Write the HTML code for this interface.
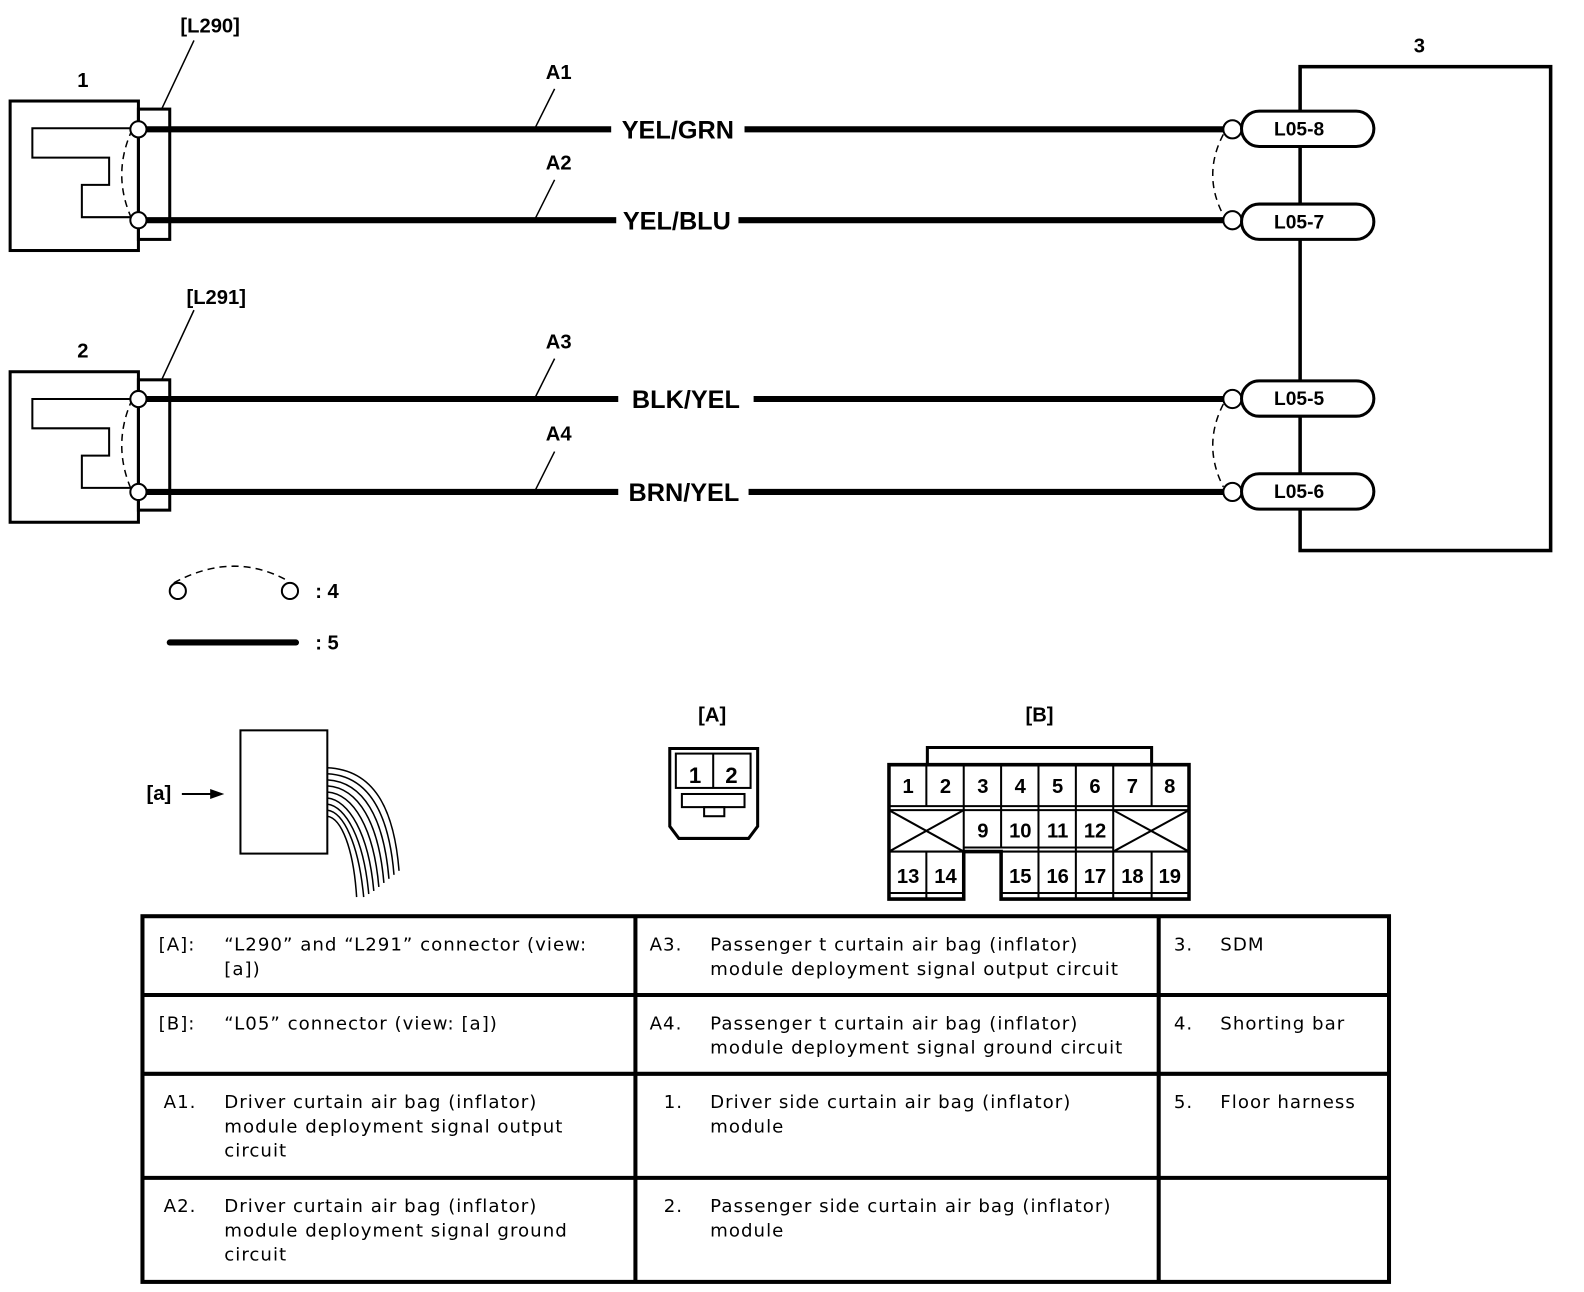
<!DOCTYPE html>
<html><head><meta charset="utf-8"><style>
html,body{margin:0;padding:0;background:#fff;}
svg{display:block;}
.b{font-family:"Liberation Sans",Arial,sans-serif;font-weight:bold;fill:#000;}
.t{font-family:"DejaVu Sans",Verdana,sans-serif;font-size:18px;letter-spacing:1px;fill:#000;}
</style></head><body>
<svg width="1584" height="1292" viewBox="0 0 1568 1279" xmlns="http://www.w3.org/2000/svg">
<g fill="none" stroke="#000">
<rect x="10" y="100" width="127" height="148" stroke-width="3"/>
<rect x="137" y="108" width="31" height="129" stroke-width="3"/>
<path d="M137,127 H32 V156 H108 V183 H81 V215 H137" stroke-width="2"/>
<path d="M131,128 Q110,173 131,218" stroke-width="1.5" stroke-dasharray="7,5"/>
<line x1="160" y1="108" x2="192" y2="40" stroke-width="1.5"/>
<rect x="10" y="368" width="127" height="149" stroke-width="3"/>
<rect x="137" y="376" width="31" height="129" stroke-width="3"/>
<path d="M137,395 H32 V424 H108 V451 H81 V483 H137" stroke-width="2"/>
<path d="M131,395 Q110,441 131,487" stroke-width="1.5" stroke-dasharray="7,5"/>
<line x1="160" y1="376" x2="192" y2="307" stroke-width="1.5"/>
<g stroke-width="6">
<line x1="145" y1="128" x2="605" y2="128"/><line x1="737" y1="128" x2="1212" y2="128"/>
<line x1="145" y1="218" x2="610" y2="218"/><line x1="731" y1="218" x2="1212" y2="218"/>
<line x1="145" y1="395" x2="612" y2="395"/><line x1="746" y1="395" x2="1212" y2="395"/>
<line x1="145" y1="487" x2="612" y2="487"/><line x1="741" y1="487" x2="1212" y2="487"/>
</g>
<g stroke-width="1.5">
<line x1="530" y1="126" x2="549" y2="88"/>
<line x1="530" y1="216" x2="549" y2="178"/>
<line x1="530" y1="393" x2="549" y2="355"/>
<line x1="530" y1="485" x2="549" y2="447"/>
</g>
<rect x="1287" y="66" width="248" height="479" stroke-width="3.5"/>
<path d="M1211,133 Q1190,173 1211,213" stroke-width="1.5" stroke-dasharray="7,5"/>
<path d="M1211,400 Q1190,441 1211,482" stroke-width="1.5" stroke-dasharray="7,5"/>
</g>
<g fill="#fff" stroke="#000" stroke-width="3">
<circle cx="137" cy="128" r="8" stroke-width="2"/><circle cx="137" cy="218" r="8" stroke-width="2"/>
<circle cx="137" cy="395" r="8" stroke-width="2"/><circle cx="137" cy="487" r="8" stroke-width="2"/>
<circle cx="1220" cy="128" r="9" stroke-width="2"/><circle cx="1220" cy="218" r="9" stroke-width="2"/>
<circle cx="1220" cy="395" r="9" stroke-width="2"/><circle cx="1220" cy="487" r="9" stroke-width="2"/>
<rect x="1229" y="110" width="131" height="35" rx="17.5"/>
<rect x="1229" y="202" width="131" height="35" rx="17.5"/>
<rect x="1229" y="377" width="131" height="35" rx="17.5"/>
<rect x="1229" y="469" width="131" height="35" rx="17.5"/>
</g>
<g class="b" font-size="20">
<text x="82" y="86" text-anchor="middle">1</text>
<text x="82" y="354" text-anchor="middle">2</text>
<text x="1405" y="52" text-anchor="middle">3</text>
<text x="208" y="32" text-anchor="middle">[L290]</text>
<text x="214" y="301" text-anchor="middle">[L291]</text>
<text x="553" y="78" text-anchor="middle">A1</text>
<text x="553" y="168" text-anchor="middle">A2</text>
<text x="553" y="345" text-anchor="middle">A3</text>
<text x="553" y="436" text-anchor="middle">A4</text>
</g>
<g class="b" font-size="25" text-anchor="middle">
<text x="671" y="137">YEL/GRN</text>
<text x="670" y="227">YEL/BLU</text>
<text x="679" y="404">BLK/YEL</text>
<text x="677" y="496">BRN/YEL</text>
</g>
<g class="b" font-size="19" text-anchor="middle">
<text x="1286" y="134">L05-8</text>
<text x="1286" y="226">L05-7</text>
<text x="1286" y="401">L05-5</text>
<text x="1286" y="493">L05-6</text>
</g>
<g fill="none" stroke="#000">
<circle cx="176" cy="585" r="8" stroke-width="2"/>
<circle cx="287" cy="585" r="8" stroke-width="2"/>
<path d="M172,577 Q231,545 285,575" stroke-width="1.5" stroke-dasharray="7,5"/>
<line x1="168" y1="636" x2="293" y2="636" stroke-width="6" stroke-linecap="round"/>
</g>
<text class="b" x="312" y="592" font-size="20">: 4</text>
<text class="b" x="312" y="643" font-size="20">: 5</text>
<text class="b" x="145" y="792" font-size="20">[a]</text>
<line x1="180" y1="786" x2="210" y2="786" stroke="#000" stroke-width="2"/>
<polygon points="208,781 222,786 208,791" fill="#000"/>
<rect x="238" y="723" width="86" height="122" fill="none" stroke="#000" stroke-width="2"/>
<g fill="none" stroke="#000" stroke-width="1.5">
<path d="M324,760 C370,762 390,800 395,862"/>
<path d="M324,766 C365,768 385,805 390,866"/>
<path d="M324,772 C360,774 380,810 385,870"/>
<path d="M324,778 C355,780 375,815 380,874"/>
<path d="M324,784 C350,786 370,820 375,878"/>
<path d="M324,790 C345,792 365,825 370,882"/>
<path d="M324,796 C342,798 360,830 365,885"/>
<path d="M324,802 C340,804 355,835 360,888"/>
<path d="M324,808 C338,810 350,840 353,888"/>
</g>
<text class="b" x="705" y="714" font-size="20" text-anchor="middle">[A]</text>
<g fill="none" stroke="#000">
<path d="M663,741 H750 V818 L741,830 H672 L663,818 Z" stroke-width="3"/>
<rect x="669" y="746" width="74" height="34" stroke-width="2"/>
<line x1="706" y1="746" x2="706" y2="780" stroke-width="2"/>
<rect x="675" y="786" width="62" height="13" stroke-width="2"/>
<rect x="697" y="799" width="20" height="9" stroke-width="2"/>
</g>
<g class="b" font-size="22" text-anchor="middle"><text x="688" y="775">1</text><text x="724" y="775">2</text></g>
<text class="b" x="1029" y="714" font-size="20" text-anchor="middle">[B]</text>
<g fill="none" stroke="#000">
<path d="M918,757 V740 H1140 V757" stroke-width="3"/>
<path d="M880,757 H1177 V890 H991 V843 H954 V890 H880 Z" stroke-width="3.5"/>
<g stroke-width="2">
<line x1="880" y1="798" x2="1177" y2="798"/><line x1="880" y1="802" x2="1177" y2="802"/>
<line x1="880" y1="843" x2="954" y2="843"/><line x1="954" y1="839" x2="1102" y2="839"/>
<line x1="991" y1="843" x2="1177" y2="843"/>
<line x1="880" y1="884" x2="954" y2="884"/><line x1="991" y1="884" x2="1177" y2="884"/>
<line x1="917" y1="757" x2="917" y2="798"/><line x1="954" y1="757" x2="954" y2="843"/>
<line x1="991" y1="757" x2="991" y2="839"/><line x1="1028" y1="757" x2="1028" y2="843"/>
<line x1="1065" y1="757" x2="1065" y2="843"/><line x1="1102" y1="757" x2="1102" y2="843"/>
<line x1="1140" y1="757" x2="1140" y2="798"/>
<line x1="917" y1="843" x2="917" y2="890"/>
<line x1="1028" y1="843" x2="1028" y2="890"/><line x1="1065" y1="843" x2="1065" y2="890"/>
<line x1="1102" y1="843" x2="1102" y2="890"/><line x1="1140" y1="843" x2="1140" y2="890"/>
<line x1="880" y1="802" x2="954" y2="843"/><line x1="954" y1="802" x2="880" y2="843"/>
<line x1="1102" y1="802" x2="1177" y2="843"/><line x1="1177" y1="802" x2="1102" y2="843"/>
</g></g>
<g class="b" font-size="20" text-anchor="middle">
<text x="899" y="785">1</text><text x="936" y="785">2</text><text x="973" y="785">3</text><text x="1010" y="785">4</text>
<text x="1047" y="785">5</text><text x="1084" y="785">6</text><text x="1121" y="785">7</text><text x="1158" y="785">8</text>
<text x="973" y="829">9</text><text x="1010" y="829">10</text><text x="1047" y="829">11</text><text x="1084" y="829">12</text>
<text x="899" y="874">13</text><text x="936" y="874">14</text><text x="1010" y="874">15</text><text x="1047" y="874">16</text>
<text x="1084" y="874">17</text><text x="1121" y="874">18</text><text x="1158" y="874">19</text>
</g>
<g fill="none" stroke="#000" stroke-width="4">
<rect x="141" y="907" width="1234" height="362"/>
<line x1="629" y1="907" x2="629" y2="1269"/><line x1="1147" y1="907" x2="1147" y2="1269"/>
<line x1="141" y1="985" x2="1375" y2="985"/><line x1="141" y1="1063" x2="1375" y2="1063"/>
<line x1="141" y1="1166" x2="1375" y2="1166"/>
</g>
<g class="t">
<text x="157" y="941">[A]:</text><text x="222" y="941">“L290” and “L291” connector (view:</text><text x="222" y="965">[a])</text>
<text x="157" y="1019">[B]:</text><text x="222" y="1019">“L05” connector (view: [a])</text>
<text x="162" y="1097">A1.</text><text x="222" y="1097">Driver curtain air bag (inflator)</text><text x="222" y="1121">module deployment signal output</text><text x="222" y="1145">circuit</text>
<text x="162" y="1200">A2.</text><text x="222" y="1200">Driver curtain air bag (inflator)</text><text x="222" y="1224">module deployment signal ground</text><text x="222" y="1248">circuit</text>
<text x="643" y="941">A3.</text><text x="703" y="941">Passenger t curtain air bag (inflator)</text><text x="703" y="965">module deployment signal output circuit</text>
<text x="643" y="1019">A4.</text><text x="703" y="1019">Passenger t curtain air bag (inflator)</text><text x="703" y="1043">module deployment signal ground circuit</text>
<text x="657" y="1097">1.</text><text x="703" y="1097">Driver side curtain air bag (inflator)</text><text x="703" y="1121">module</text>
<text x="657" y="1200">2.</text><text x="703" y="1200">Passenger side curtain air bag (inflator)</text><text x="703" y="1224">module</text>
<text x="1162" y="941">3.</text><text x="1208" y="941">SDM</text>
<text x="1162" y="1019">4.</text><text x="1208" y="1019">Shorting bar</text>
<text x="1162" y="1097">5.</text><text x="1208" y="1097">Floor harness</text>
</g>
</svg>
</body></html>
